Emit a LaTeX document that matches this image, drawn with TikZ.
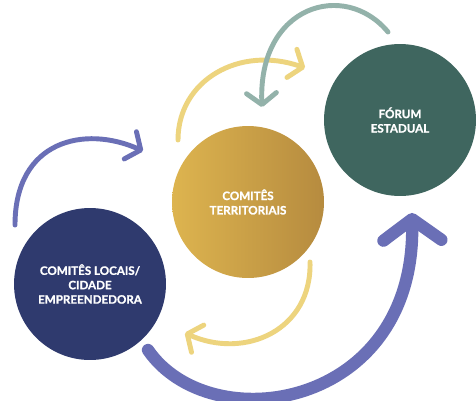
\documentclass[tikz,border=0pt]{standalone}
\usepackage{fontspec}
\setmainfont{Lato}[BoldFeatures={FakeBold=1.2}]
\usetikzlibrary{arrows.meta}
\definecolor{locblue}{HTML}{2F3A6E}
\definecolor{forumgreen}{HTML}{3F665F}
\definecolor{goldl}{HTML}{DDB44F}
\definecolor{goldr}{HTML}{B68B3F}
\definecolor{arrowblue}{HTML}{6A6FB6}
\definecolor{arrowyellow}{HTML}{EDD47E}
\definecolor{arrowgreen}{HTML}{93B2AA}
\begin{document}
\begin{tikzpicture}
		[x=0.02cm, y=0.02cm,
		every node/.style={circle, inner sep=0pt, minimum size=3.04cm, align=center, text=white, font=\fontsize{6.6}{8.2}\selectfont\bfseries},
		loop arrow/.style={line width=2.8pt, line cap=round, -{Straight Barb[length=6.5pt, width=17pt, round]}},
		big arrow/.style={line width=7pt, line cap=round, -{Straight Barb[length=12pt, width=33pt, round]}}]
		\useasboundingbox[fill=white] (0,0) rectangle (476,400);
		
		\node[fill=locblue] (loc) at (90,116) {COMITÊS LOCAIS/\\CIDADE\\EMPREENDEDORA};
		\node[left color=goldl, right color=goldr] (terr) at (248,198) {COMITÊS\\TERRITORIAIS};
		\node[fill=forumgreen] (forum) at (400,280) {FÓRUM\\ESTADUAL};
		
		\coordinate (locout) at (15,175);
		\coordinate (terrin) at (143,249);
		\coordinate (terrout) at (178,260);
		\coordinate (forumin) at (305,332);
		\coordinate (forumout) at (388,368);
		\coordinate (terrback) at (262,293);
		\coordinate (terrdown) at (310,138);
		\coordinate (locin) at (185,67);
		\coordinate (locbig) at (148,50);
		\coordinate (forumbig) at (412,187);
		
		\draw[loop arrow, arrowblue] (locout) .. controls (15,260) and (85,275) .. (terrin);
		\draw[loop arrow, arrowyellow] (terrout) .. controls (178,320) and (240,355) .. (forumin);
		\draw[loop arrow, arrowgreen] (forumout) .. controls (345,420) and (258,395) .. (terrback);
		\draw[loop arrow, arrowyellow] (terrdown) .. controls (312,70) and (245,40) .. (locin);
		\draw[big arrow, arrowblue] (locbig) .. controls (210,-40) and (415,-10) .. (forumbig);
		\end{tikzpicture}
\end{document}
